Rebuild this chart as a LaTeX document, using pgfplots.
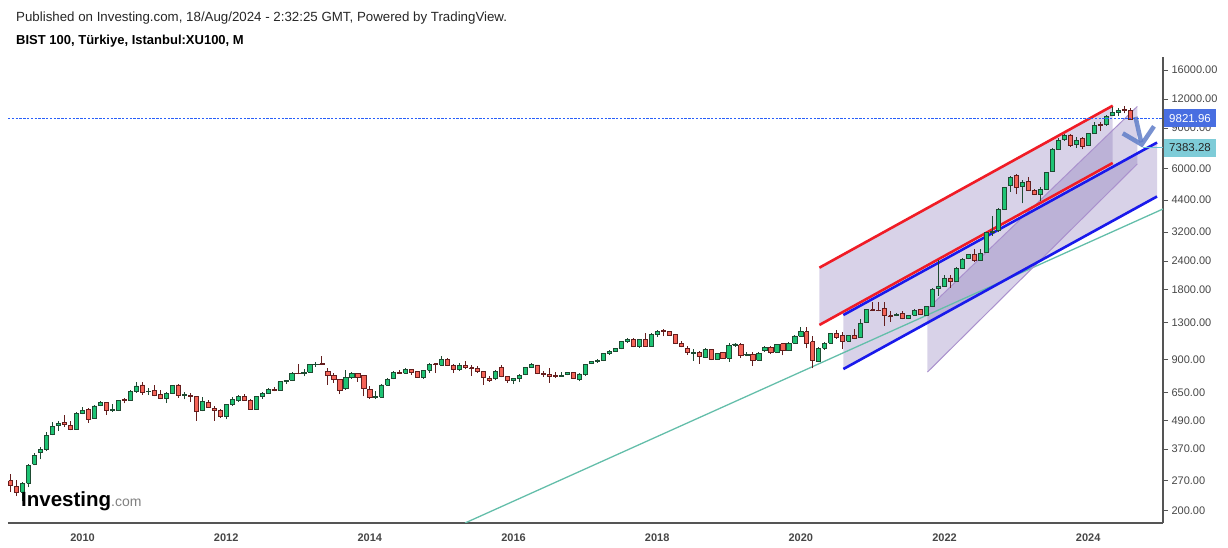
\documentclass[border=0pt]{standalone}
\usepackage{fontspec}
\setmainfont{Liberation Sans}
\usepackage{pgfplots}
\usepackage{pgfplotstable}
\pgfplotsset{compat=1.18}
\usetikzlibrary{arrows.meta}
\definecolor{cgreen}{RGB}{30,195,116}
\definecolor{cred}{RGB}{245,100,88}
\definecolor{egreen}{RGB}{30,75,50}
\definecolor{ered}{RGB}{100,30,30}
\definecolor{axisgray}{RGB}{85,85,85}
\definecolor{labelgray}{RGB}{70,70,70}
\definecolor{chanfill}{RGB}{125,105,178}
\definecolor{chred}{RGB}{240,28,38}
\definecolor{chblue}{RGB}{25,25,235}
\definecolor{chpurple}{RGB}{170,145,205}
\definecolor{trendteal}{RGB}{100,190,170}
\definecolor{arrowblue}{RGB}{95,125,200}
\definecolor{priceblue}{RGB}{72,110,225}
\definecolor{pricedash}{RGB}{40,95,250}
\definecolor{tealbox}{RGB}{126,204,216}
\definecolor{tealline}{RGB}{110,195,210}

% month index (Jan 2009 = 0), open, high, low, close
\pgfplotstableread{
m O H L C
0 270 288 242 257
1 256 272 232 241
2 241 266 220 263
3 263 319 253 315
4 318 356 315 348
5 357 379 334 369
6 367 437 363 424
7 427 483 424 462
8 468 489 444 478
9 483 517 462 471
10 468 490 446 452
11 451 535 449 528
12 528 562 523 544
13 550 559 481 498
14 503 574 500 568
15 569 597 566 589
16 589 593 519 545
17 542 577 535 550
18 545 605 540 601
19 605 613 583 599
20 599 664 597 657
21 655 719 648 693
22 700 719 636 648
23 655 682 632 659
24 664 700 625 632
25 637 666 607 613
26 611 651 585 644
27 644 700 639 695
28 700 707 617 632
29 633 651 607 635
30 631 648 590 623
31 623 627 490 539
32 545 620 539 593
33 587 601 557 561
34 555 569 490 542
35 542 551 506 513
36 513 580 497 574
37 574 620 569 607
38 601 635 593 624
39 624 639 597 601
40 601 607 546 550
41 550 628 546 624
42 622 655 611 644
43 644 678 639 671
44 671 686 657 664
45 664 728 660 724
46 724 738 706 733
47 733 796 728 784
48 786 860 777 782
49 782 818 763 796
50 796 866 790 859
51 859 880 840 862
52 864 932 852 858
53 803 829 700 768
54 772 785 716 738
55 740 742 639 661
56 675 812 666 751
57 751 796 744 785
58 785 790 722 758
59 770 775 625 677
60 672 690 611 617
61 617 661 611 625
62 621 705 619 700
63 700 749 695 741
64 745 802 740 793
65 793 812 782 784
66 786 832 782 819
67 819 823 772 795
68 801 806 751 755
69 751 814 742 808
70 810 871 788 862
71 866 872 788 860
72 854 930 851 905
73 905 914 844 849
74 852 864 787 815
75 815 875 804 849
76 852 888 818 837
77 830 852 768 826
78 826 845 788 801
79 803 805 700 755
80 745 768 722 735
81 745 812 733 797
82 834 852 755 762
83 764 768 713 735
84 735 752 706 749
85 749 780 718 771
86 775 840 771 834
87 834 875 830 857
88 854 857 778 784
89 786 806 757 779
90 777 825 717 760
91 768 796 751 762
92 762 800 760 766
93 776 800 770 793
94 792 797 742 746
95 739 786 725 781
96 781 863 766 859
97 866 886 862 880
98 880 904 871 897
99 897 962 888 955
100 955 994 944 981
101 977 1010 972 1007
102 1007 1087 998 1080
103 1080 1114 1061 1101
104 1105 1114 1017 1023
105 1023 1110 1014 1105
106 1105 1170 1023 1030
107 1030 1170 1026 1153
108 1153 1214 1128 1195
109 1203 1220 1136 1189
110 1189 1197 1138 1143
111 1160 1165 1050 1060
112 1060 1080 1018 1025
113 1010 1027 946 967
114 957 1000 890 967
115 970 981 863 928
116 921 1011 915 994
117 994 1004 895 904
118 904 962 898 957
119 967 970 911 913
120 913 1060 881 1039
121 1039 1061 1022 1052
122 1045 1060 915 939
123 939 968 929 952
124 952 971 845 896
125 896 971 893 960
126 985 1030 975 1019
127 1019 1026 951 967
128 967 1054 960 1045
129 1055 1061 939 985
130 985 1072 981 1061
131 1061 1145 1055 1139
132 1139 1250 1134 1189
133 1189 1250 1006 1059
134 1076 1137 826 897
135 882 1025 877 1008
136 1008 1070 991 1059
137 1061 1178 1059 1170
138 1170 1209 1110 1120
139 1146 1189 1000 1081
140 1081 1150 1076 1142
141 1146 1223 1100 1113
142 1120 1352 1115 1292
143 1300 1488 1295 1480
144 1480 1593 1457 1465
145 1470 1590 1455 1462
146 1500 1593 1261 1393
147 1393 1453 1313 1382
148 1391 1436 1385 1410
149 1427 1465 1345 1352
150 1352 1400 1348 1397
151 1397 1484 1390 1470
152 1484 1490 1405 1407
153 1402 1540 1390 1530
154 1528 1830 1519 1812
155 1823 2424 1700 1873
156 1873 2090 1860 2008
157 2028 2090 1840 1954
158 1960 2255 1950 2232
159 2240 2464 2232 2448
160 2465 2580 2440 2565
161 2565 2705 2384 2407
162 2407 2705 2400 2591
163 2617 3212 2605 3192
164 3192 3765 3087 3234
165 3240 4052 3192 4012
166 4012 5016 3985 4993
167 5073 5588 4780 5532
168 5643 5720 4660 4993
169 5023 5370 4260 5248
170 5316 5510 4813 4862
171 4846 4910 4625 4658
172 4658 4994 4358 4880
173 4900 5830 4860 5796
174 5850 7358 5830 7285
175 7285 8126 7235 7990
176 8046 8484 7935 8372
177 8400 8505 7476 7550
178 7620 8272 7370 7990
179 8126 8210 7300 7476
180 7550 8590 7520 8540
181 8540 9528 8484 9276
182 9340 9588 8738 9240
183 9300 10250 9200 10113
184 10214 11090 10140 10523
185 10523 11010 10140 10767
186 10840 11260 10420 10730
187 10730 10950 9760 9822
}\candles

\begin{document}
\begin{tikzpicture}[x=1pt,y=1pt]
\useasboundingbox (0,0) rectangle (1228,547);
\begin{axis}[
  at={(8pt,24pt)}, anchor=south west,
  scale only axis, width=1155pt, height=466pt,
  ymode=log, xmin=-0.45, xmax=192.5, ymin=177.5, ymax=18240,
  axis x line=bottom, axis y line=right,
  axis line style={-, draw=axisgray, line width=1.2pt},
  xtick={12,36,60,84,108,132,156,180},
  xticklabels={2010,2012,2014,2016,2018,2020,2022,2024},
  ytick={200,270,370,490,650,900,1300,1800,2400,3200,4400,6000,9000,12000,16000},
  yticklabels={200.00,270.00,370.00,490.00,650.00,900.00,1300.00,1800.00,2400.00,3200.00,4400.00,6000.00,9000.00,12000.00,16000.00},
  yminorticks=false,
  tick align=outside, major tick length=5pt,
  xtick style={draw=none},
  ytick style={draw=axisgray, line width=1pt},
  xticklabel style={font=\bfseries\fontsize{11}{13}\selectfont, text=labelgray, yshift=-2pt},
  yticklabel style={font=\fontsize{11}{13}\selectfont, text=labelgray, anchor=west, xshift=0pt},
  clip=true,
]
% channels (fills)
\addplot[draw=none, fill=chanfill, fill opacity=0.3, forget plot] coordinates {(135.1,2246) (184.1,11240) (184.1,6360) (135.1,1271) (135.1,2246)};
\addplot[draw=none, fill=chanfill, fill opacity=0.3, forget plot] coordinates {(139.1,1403) (191.5,7794) (191.5,4558) (139.1,820) (139.1,1403)};
\addplot[draw=none, fill=chanfill, fill opacity=0.3, forget plot] coordinates {(153.15,1490) (188.2,11150) (188.2,6297) (153.15,796) (153.15,1490)};
% long trend line
\addplot[trendteal, line width=1.3pt, forget plot] coordinates {(75.9,177.5) (192.5,4026)};
% channel 3 edges
\addplot[chpurple, line width=1pt, forget plot] coordinates {(153.15,1490) (188.2,11150)};
\addplot[chpurple, line width=1pt, forget plot] coordinates {(153.15,796) (188.2,6297)};
% channel 1 edges
\addplot[chred, line width=2.6pt, forget plot] coordinates {(135.1,2246) (184.1,11240)};
\addplot[chred, line width=2.6pt, forget plot] coordinates {(135.1,1271) (184.1,6360)};
% channel 2 edges
\addplot[chblue, line width=2.6pt, forget plot] coordinates {(139.1,1403) (191.5,7794)};
\addplot[chblue, line width=2.6pt, forget plot] coordinates {(139.1,820) (191.5,4558)};
% candles
\pgfplotstablegetrowsof{\candles}
\pgfmathtruncatemacro\nrows{\pgfplotsretval-1}
\pgfplotsforeachungrouped \i in {0,...,\nrows}{%
  \pgfplotstablegetelem{\i}{m}\of\candles \let\cm\pgfplotsretval
  \pgfplotstablegetelem{\i}{O}\of\candles \let\cO\pgfplotsretval
  \pgfplotstablegetelem{\i}{H}\of\candles \let\cH\pgfplotsretval
  \pgfplotstablegetelem{\i}{L}\of\candles \let\cL\pgfplotsretval
  \pgfplotstablegetelem{\i}{C}\of\candles \let\cC\pgfplotsretval
  \pgfmathsetmacro\xl{\cm-0.35}%
  \pgfmathsetmacro\xr{\cm+0.35}%
  \ifdim\cO pt>\cC pt \def\fc{cred}\def\ec{ered}\else\def\fc{cgreen}\def\ec{egreen}\fi
  \edef\tmp{%
    \noexpand\addplot[draw=\ec, line width=1pt, forget plot] coordinates {(\cm,\cL) (\cm,\cH)};
    \noexpand\addplot[draw=\ec, fill=\fc, line width=0.9pt, forget plot] coordinates {(\xl,\cO) (\xr,\cO) (\xr,\cC) (\xl,\cC) (\xl,\cO)};
  }\tmp
}
% arrow
\addplot[arrowblue, opacity=0.85, line width=4.5pt, -{Straight Barb[length=15pt,width=32pt]}, forget plot] coordinates {(187.9,10050) (189.05,7420)};
\end{axis}
% last-price line and connector to the 7383.28 label
\draw[draw=pricedash, line width=1.1pt, dash pattern=on 2.4pt off 1.4pt] (8,428.9) -- (1163,428.9);
\draw[draw=tealline, line width=1.3pt] (1143,399.5) -- (1163,399.5);
% price labels on the right scale
\node[fill=priceblue, text=white, font=\fontsize{11.5}{13}\selectfont, minimum width=52pt, minimum height=18pt, inner sep=0pt] at (1190,428.5) {9821.96};
\node[fill=tealbox, text=black!85, font=\fontsize{11.5}{13}\selectfont, minimum width=52pt, minimum height=18pt, inner sep=0pt] at (1190,399) {7383.28};
% header
\node[anchor=base west, inner sep=0pt, font=\fontsize{13.3}{15}\selectfont, text=black!85] at (16,525) {Published on Investing.com, 18/Aug/2024 - 2:32:25 GMT, Powered by TradingView.};
\node[anchor=base west, inner sep=0pt, font=\bfseries\fontsize{13}{15}\selectfont] at (16,502) {BIST 100, Türkiye, Istanbul:XU100, M};
% watermark
\node[anchor=base west, inner sep=0pt, font=\bfseries\fontsize{20.5}{20}\selectfont] at (21,41) {Investing{\color{gray}\mdseries\fontsize{14}{14}\selectfont .com}};
\end{tikzpicture}
\end{document}
